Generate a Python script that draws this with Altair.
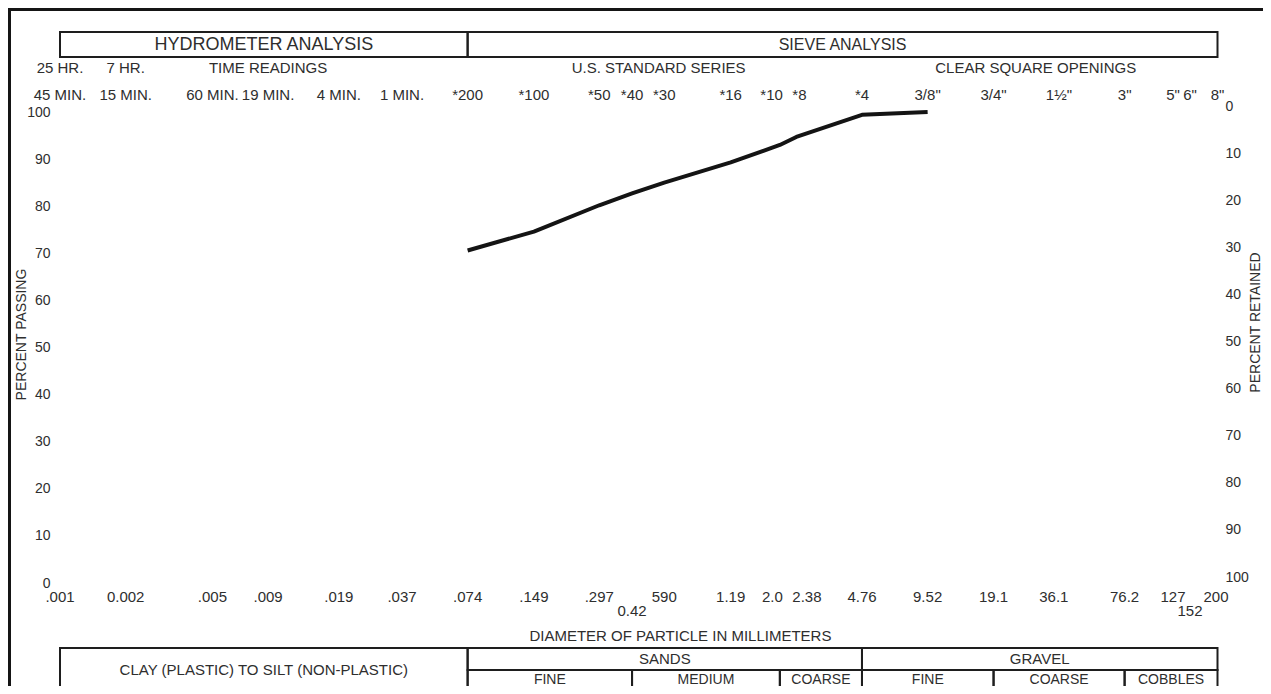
import altair as alt
import pandas as pd
import math

# ---------------- data ----------------
# gradation curve: sieve opening (mm) and percent passing
curve_mm = [0.074, 0.149, 0.297, 0.42, 0.59, 1.19, 2.0, 2.38, 4.76, 9.52]
curve_passing = [70.6, 74.6, 80.2, 82.7, 85.0, 89.3, 93.0, 94.7, 99.4, 100.0]

# top rows: sieve numbers / clear square openings (diameter in mm)
sieve_labels = ["*200", "*100", "*50", "*40", "*30", "*16", "*4",
                '3/8"', '3/4"', "1½\"", '3"', '5"', '6"', '8"']
sieve_mm = [0.074, 0.149, 0.297, 0.42, 0.59, 1.19, 4.76,
            9.52, 19.1, 38.1, 76.2, 127, 152, 203.2]
# a crowded pair (#10 = 2.0 mm, #8 = 2.38 mm), set either side of its point
sieve_pair_first = ["*10"]
sieve_pair_first_mm = [2.0]
sieve_pair_second = ["*8"]
sieve_pair_second_mm = [2.38]

# hydrometer time readings
time_labels = ["45 MIN.", "15 MIN.", "60 MIN.", "19 MIN.", "4 MIN.", "1 MIN."]
time_mm = [0.001, 0.002, 0.005, 0.009, 0.019, 0.037]
hour_labels = ["25 HR.", "7 HR."]
hour_mm = [0.001, 0.002]

# row-1 headings and the diameter they sit over
heading_labels = ["TIME READINGS", "U.S. STANDARD SERIES", "CLEAR SQUARE OPENINGS"]
heading_mm = [0.009, 0.556, 29.8]

# bottom diameter labels (mm)
diam_labels = [".001", "0.002", ".005", ".009", ".019", ".037", ".074", ".149", ".297",
               "590", "1.19", "4.76", "9.52", "19.1", "36.1", "76.2", "127", "200"]
diam_mm = [0.001, 0.002, 0.005, 0.009, 0.019, 0.037, 0.074, 0.149, 0.297,
           0.59, 1.19, 4.76, 9.52, 19.1, 36.1, 76.2, 127, 200]
diam_pair_first = ["2.0"]
diam_pair_first_mm = [2.0]
diam_pair_second = ["2.38"]
diam_pair_second_mm = [2.38]
diam_low_labels = ["0.42", "152"]
diam_low_mm = [0.42, 152]

# header boxes
hydro_label = ["HYDROMETER ANALYSIS"]
hydro_from = [0.001]
hydro_to = [0.074]
sieve_head_label = ["SIEVE ANALYSIS"]
sieve_head_from = [0.074]
sieve_head_to = [203.2]

# soil classification table
clay_label = ["CLAY (PLASTIC) TO SILT (NON-PLASTIC)"]
clay_from = [0.001]
clay_to = [0.074]
group_labels = ["SANDS", "GRAVEL"]
group_from = [0.074, 4.76]
group_to = [4.76, 203.2]
class_labels = ["FINE", "MEDIUM", "COARSE", "FINE", "COARSE", "COBBLES"]
class_from = [0.074, 0.42, 2.0, 4.76, 19.1, 76.2]
class_to = [0.42, 2.0, 4.76, 19.1, 76.2, 203.2]

# ---------------- styling ----------------
W, H = 1156, 471
FONT = "Liberation Sans"
INK = "#2e2e2e"
xscale = alt.Scale(type="log", domain=[0.001, 200], nice=False)
yscale = alt.Scale(domain=[0, 100], nice=False)
X_AX = dict(scale=xscale, axis=None)


def texts(labels, mm, y, size=15, baseline="middle", align="center", dx=0):
    df = pd.DataFrame({"label": labels, "mm": mm})
    return alt.Chart(df).mark_text(font=FONT, fontSize=size, baseline=baseline,
                                   align=align, dx=dx, color=INK).encode(
        x=alt.X("mm:Q", **X_AX), y=alt.value(y), text="label:N")


def centered_texts(labels, a, b, y, size=15, baseline="middle"):
    mids = [math.sqrt(p * q) for p, q in zip(a, b)]
    return texts(labels, mids, y, size=size, baseline=baseline)


def boxes(a, b, y, y2, sw=2):
    df = pd.DataFrame({"a": a, "b": b})
    return alt.Chart(df).mark_rect(fillOpacity=0, stroke="#1e1e1e", strokeWidth=sw).encode(
        x=alt.X("a:Q", **X_AX), x2="b:Q", y=alt.value(y), y2=alt.value(y2))


curve_df = pd.DataFrame({"mm": curve_mm, "passing": curve_passing})
ticks = list(range(0, 101, 10))

left_axis = alt.Axis(orient="left", values=ticks, domain=False, ticks=False, grid=False,
                     labelFont=FONT, labelFontSize=14, labelColor=INK, labelPadding=10,
                     title="PERCENT PASSING", titleFont=FONT, titleFontSize=14,
                     titleFontWeight="normal", titleColor=INK, titleAngle=270,
                     titleBaseline="alphabetic", titleAlign="center", titleX=-35, titleY=222)
right_axis = alt.Axis(orient="right", values=ticks, domain=False, ticks=False, grid=False,
                      labelExpr="100 - datum.value", labelAlign="left", labelOffset=-6,
                      labelFont=FONT, labelFontSize=14, labelColor=INK, labelPadding=9,
                      title="PERCENT RETAINED", titleFont=FONT, titleFontSize=14,
                      titleFontWeight="normal", titleColor=INK, titleAngle=270,
                      titleBaseline="alphabetic", titleAlign="center", titleX=43, titleY=210)

curve = alt.Chart(curve_df).mark_line(color="#141414", strokeWidth=4, strokeJoin="round").encode(
    x=alt.X("mm:Q", **X_AX),
    y=alt.Y("passing:Q", scale=yscale, axis=left_axis))

right = alt.Chart(curve_df).mark_line(strokeOpacity=0).encode(
    x=alt.X("mm:Q", **X_AX),
    y=alt.Y("passing:Q", scale=yscale, axis=right_axis))

frame_df = pd.DataFrame({"frame": ["border"]})
top_frame = alt.Chart(frame_df).mark_rule(color="#151515", strokeWidth=3).encode(
    x=alt.value(-52), x2=alt.value(W + 47), y=alt.value(-102.5))
left_frame = alt.Chart(frame_df).mark_rule(color="#151515", strokeWidth=3).encode(
    x=alt.value(-50.5), y=alt.value(-104), y2=alt.value(H + 103))

layers = [
    top_frame, left_frame,
    boxes(hydro_from + sieve_head_from, hydro_to + sieve_head_to, -80, -55),
    centered_texts(hydro_label, hydro_from, hydro_to, -67.5, size=18),
    centered_texts(sieve_head_label, sieve_head_from, sieve_head_to, -67.5, size=16),
    texts(hour_labels, hour_mm, -44),
    texts(heading_labels, heading_mm, -44),
    texts(time_labels, time_mm, -17),
    texts(sieve_labels, sieve_mm, -17),
    texts(sieve_pair_first, sieve_pair_first_mm, -17, align="right", dx=3),
    texts(sieve_pair_second, sieve_pair_second_mm, -17, align="left", dx=-4),
    texts(diam_labels, diam_mm, 485),
    texts(diam_pair_first, diam_pair_first_mm, 485, align="right", dx=3),
    texts(diam_pair_second, diam_pair_second_mm, 485, align="left", dx=-4),
    texts(diam_low_labels, diam_low_mm, 499),
    texts(["DIAMETER OF PARTICLE IN MILLIMETERS"], [0.7], 524),
    boxes(clay_from, clay_to, 536, 600),
    boxes(group_from, group_to, 536, 558),
    boxes(class_from, class_to, 558, 600),
    centered_texts(clay_label, clay_from, clay_to, 558),
    centered_texts(group_labels, group_from, group_to, 547),
    centered_texts(class_labels, class_from, class_to, 571.5, size=14, baseline="alphabetic"),
    curve, right,
]

chart = alt.layer(*layers).properties(
    width=W, height=H,
    padding={"left": 52, "top": 104, "right": 47, "bottom": 103},
    autosize=alt.AutoSizeParams(type="none"),
).resolve_axis(y="independent").configure_view(strokeOpacity=0)

chart.save("out.html", embed_options={"renderer": "svg", "actions": False})
